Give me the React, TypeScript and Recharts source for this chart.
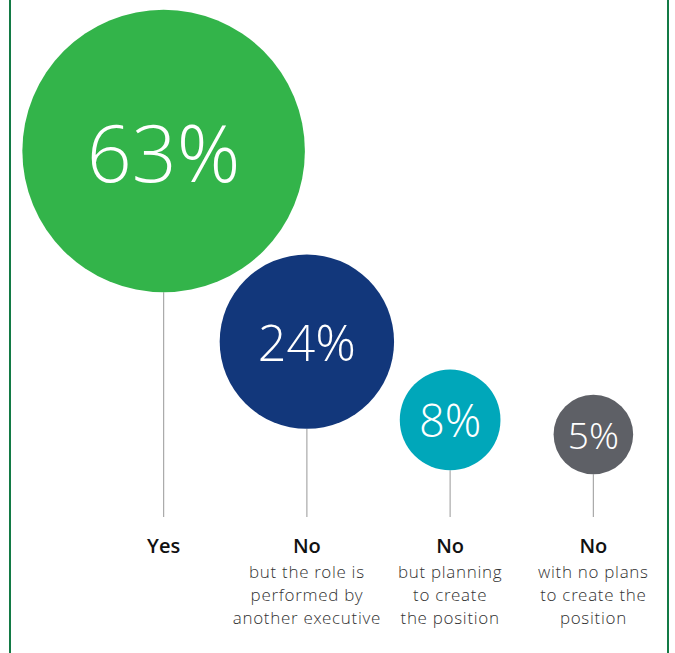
import React from 'react';
import { ScatterChart, Scatter, XAxis, YAxis, ZAxis } from 'recharts';

const categories = ['Yes', 'No', 'No', 'No'];
const subtitles = [
  [],
  ['but the role is', 'performed by', 'another executive'],
  ['but planning', 'to create', 'the position'],
  ['with no plans', 'to create the', 'position'],
];
const shares = [63, 24, 8, 5];
const colors = ['#33b44a', '#12377b', '#00a7ba', '#5e6066'];

const data = shares.map((v, i) => ({ x: i, y: v, z: v }));

const FONT = '"Open Sans", sans-serif';
const LIGHT_FONT = '"Open Sans Light", "Open Sans", sans-serif';
const STEM_END = 517;
const LABEL_Y = 545;

function Bubble(props: any) {
  const { cx, cy, payload } = props;
  const r = props.width ? props.width / 2 : Math.sqrt(props.size / Math.PI);
  const i = payload.x;
  const digits = String(payload.y).length;
  // label ink width grows with the bubble, a bit wider on small ones
  const fontSize = (0.95 * r + 8) / (0.572 * digits + 0.66);
  return (
    <g>
      <line x1={cx} x2={cx} y1={cy + r} y2={STEM_END} stroke="#a9a9a9" strokeWidth={1.2} />
      <circle cx={cx} cy={cy} r={r} fill={colors[i]} />
      <text
        x={cx}
        y={cy}
        textAnchor="middle"
        dominantBaseline="central"
        fill="#fff"
        fontFamily={LIGHT_FONT}
        fontWeight={300}
        fontSize={fontSize}
      >
        {payload.y}%
      </text>
    </g>
  );
}

const renderTick = (props: any) => {
  const { x, payload } = props;
  const i = payload.value;
  return (
    <g>
      <text x={x} y={LABEL_Y} textAnchor="middle" dominantBaseline="central" fontFamily={FONT} fontWeight={600} fontSize={20} fill="#111">
        {categories[i]}
      </text>
      {subtitles[i].map((s, k) => (
        <text
          key={k}
          x={x}
          y={LABEL_Y + 26 + k * 23.2}
          textAnchor="middle"
          dominantBaseline="central"
          fontFamily={LIGHT_FONT}
          fontWeight={300}
          fontSize={17}
          letterSpacing={0.7}
          fill="#333"
        >
          {s}
        </text>
      ))}
    </g>
  );
};

export default function App() {
  return (
    <div style={{ position: 'absolute', left: 0, top: 0, width: 675, height: 653, background: '#fff' }}>
      <div style={{ position: 'absolute', left: 9, top: 0, width: 656, height: 653, borderLeft: '2px solid #137a45', borderRight: '2px solid #137a45' }} />
      <ScatterChart width={675} height={653} margin={{ top: 19, right: 10, bottom: 164, left: 92 }}>
        <XAxis
          type="number"
          dataKey="x"
          domain={[-0.5, 3.5]}
          ticks={[0, 1, 2, 3]}
          axisLine={false}
          tickLine={false}
          height={30}
          tick={renderTick}
          interval={0}
        />
        <YAxis type="number" dataKey="y" domain={[0, 90]} hide />
        <ZAxis type="number" dataKey="z" domain={[0, 63]} range={[0, 62700]} />
        <Scatter data={data} shape={<Bubble />} isAnimationActive={false} />
      </ScatterChart>
    </div>
  );
}
